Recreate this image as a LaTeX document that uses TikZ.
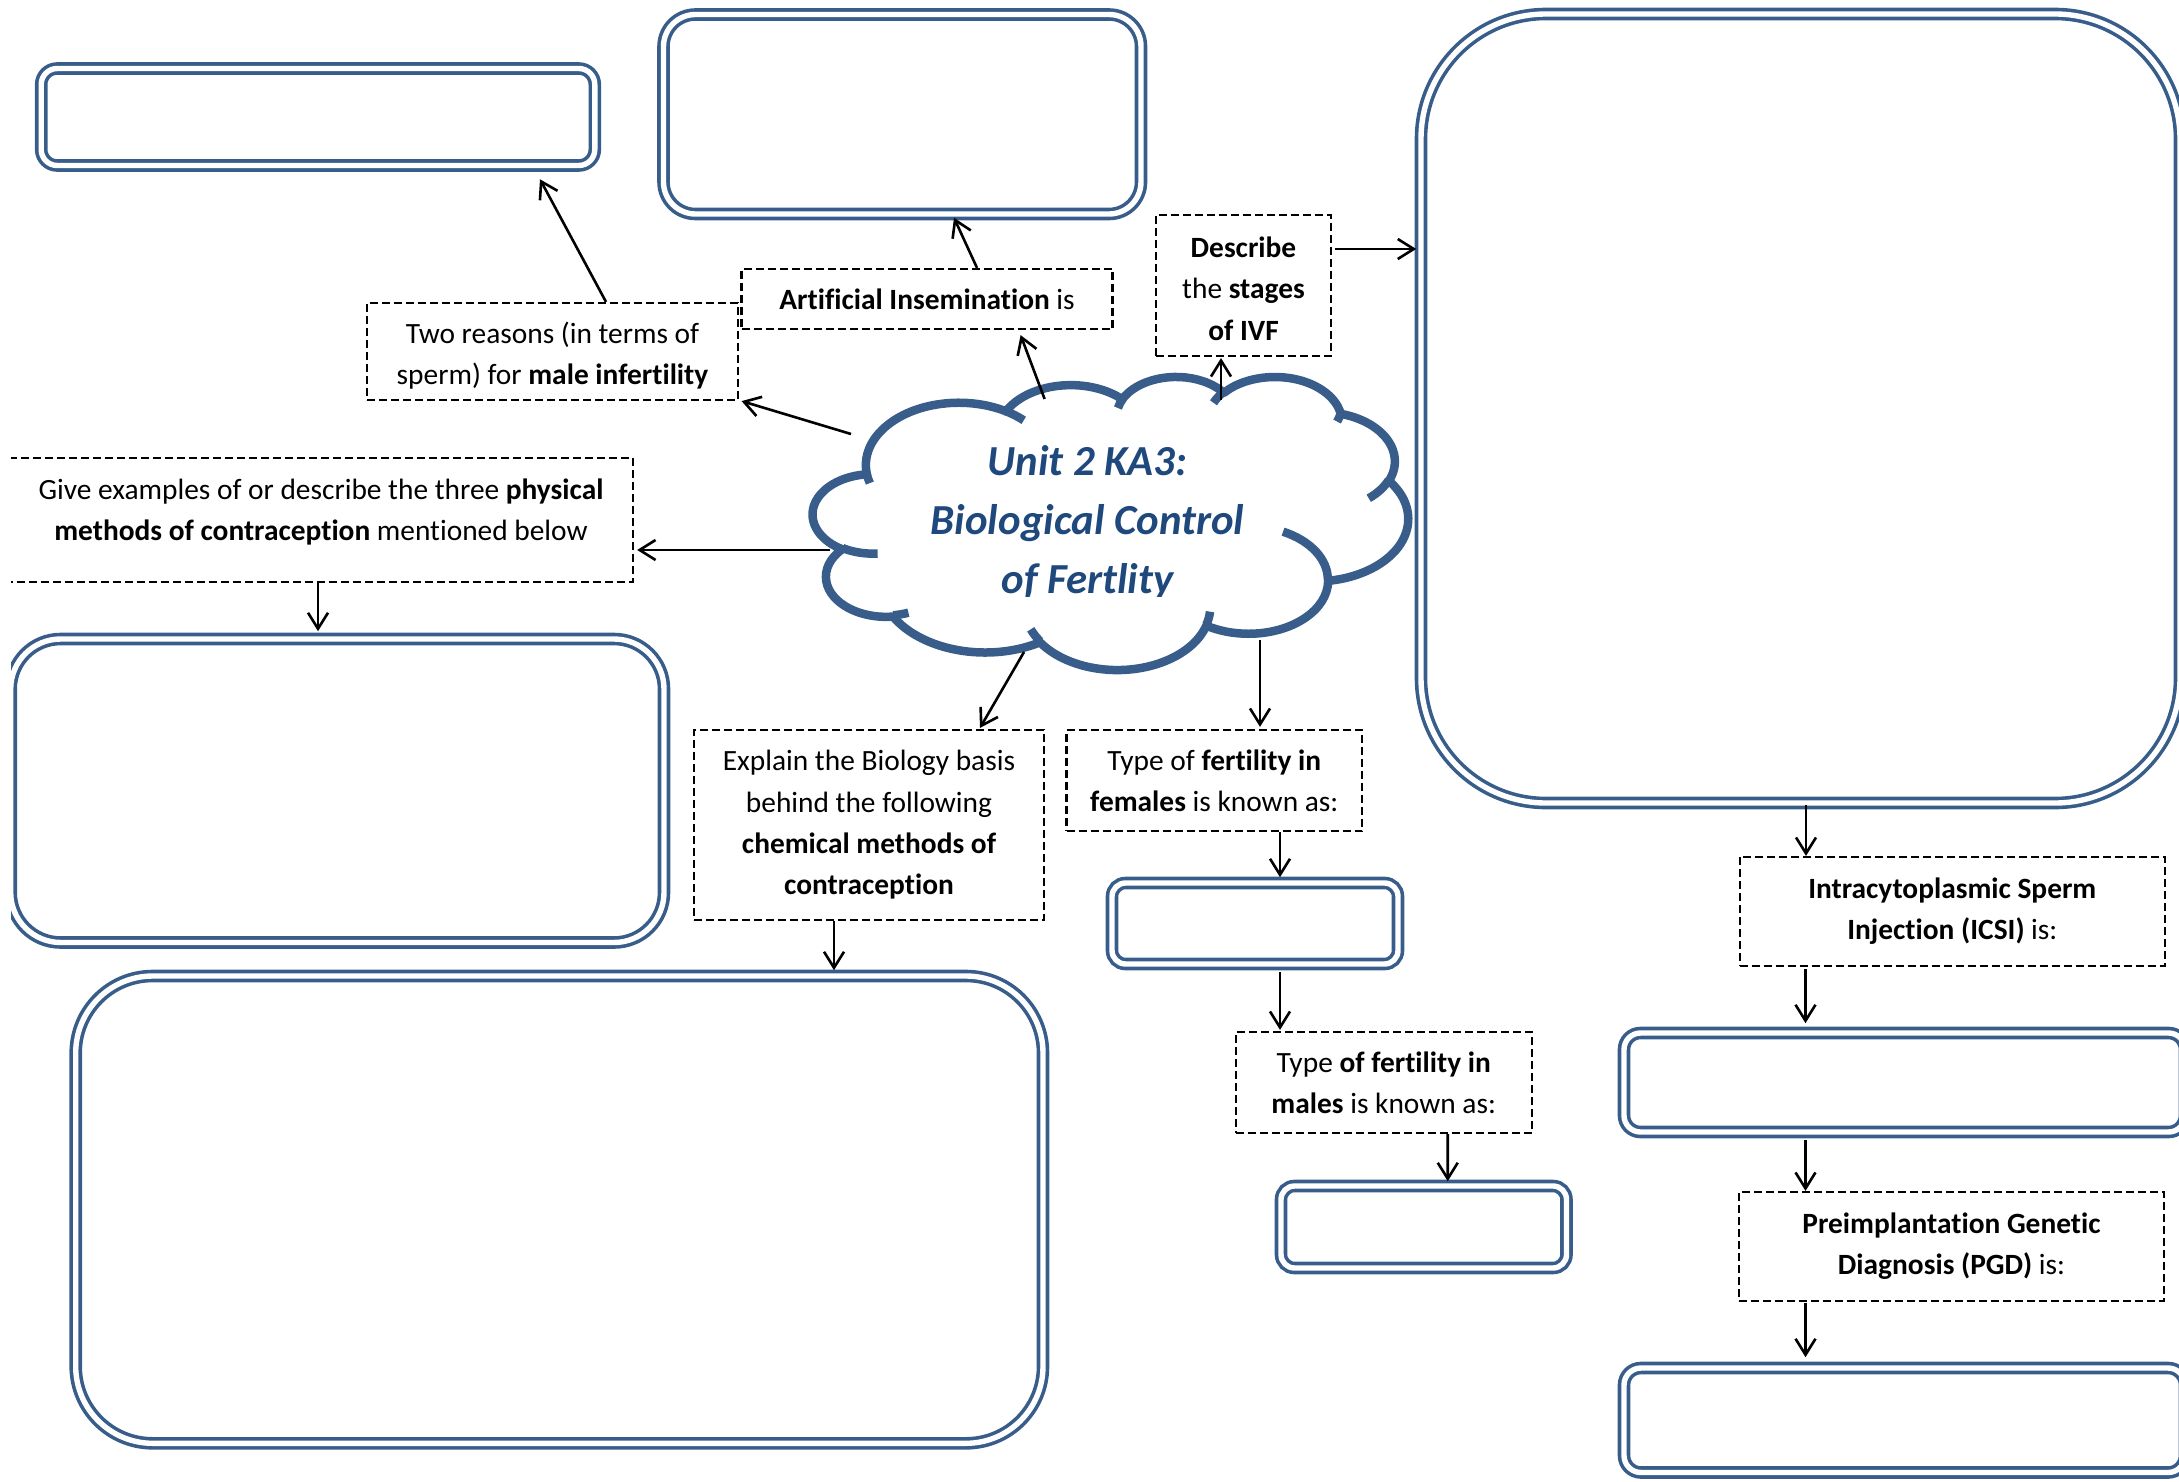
\documentclass[tikz,border=0pt]{standalone}
\usepackage{fontspec}
\setmainfont[Ligatures={NoCommon}]{Carlito}
\usetikzlibrary{arrows.meta,calc}
\definecolor{shapeblue}{RGB}{56,93,138}
\definecolor{titleblue}{RGB}{31,73,125}
% Word cloud arc: convert visual angles to parametric angles
\newcommand\mkarc[5]{%
 \pgfmathsetmacro\tmpS{atan2((#2)*sin(#4),(#3)*cos(#4))}%
 \pgfmathsetmacro\tmpE{atan2((#2)*sin((#4)+(#5)),(#3)*cos((#4)+(#5)))}%
 \pgfmathsetmacro\tmpE{(\tmpE)+360*round(((\tmpS)+(#5)-(\tmpE))/360)}%
 \expandafter\edef\csname aS#1\endcsname{\tmpS}%
 \expandafter\edef\csname aE#1\endcsname{\tmpE}}
\mkarc{A}{6.753}{9.190}{-190.4875}{123.7805}
\mkarc{B}{5.333}{7.267}{-144.1024}{89.9452}
\mkarc{C}{4.365}{5.945}{-145.8079}{99.7230}
\mkarc{D}{4.857}{6.595}{-130.9861}{117.2417}
\mkarc{E}{5.333}{7.273}{-78.7089}{109.0269}
\mkarc{F}{6.775}{9.220}{-46.2673}{130.2690}
\mkarc{G}{5.785}{7.867}{0.6250}{114.0333}
\mkarc{H}{6.752}{9.215}{22.4516}{115.1726}
\mkarc{I}{7.720}{10.543}{66.2426}{75.7110}
\mkarc{J}{4.360}{5.918}{-274.9421}{146.7356}
\mkarc{K}{4.345}{5.945}{-246.8285}{152.5189}
\mkarc{a}{4.345}{5.945}{86.7420}{26.4295}
\mkarc{b}{4.360}{5.918}{73.6105}{11.4475}
\mkarc{c}{6.752}{9.215}{137.6242}{14.0811}
\mkarc{d}{6.752}{9.215}{6.4533}{15.9984}
\mkarc{e}{5.785}{7.867}{-70.2924}{70.9174}
\mkarc{f}{5.333}{7.273}{30.3180}{27.7515}
\mkarc{g}{4.857}{6.595}{13.7443}{14.8589}
\mkarc{h}{4.857}{6.595}{-149.1815}{18.1954}
\mkarc{i}{4.365}{5.945}{-163.4943}{17.6864}
\mkarc{j}{6.753}{9.190}{-66.7070}{12.3194}
\mkarc{k}{6.753}{9.190}{157.6544}{11.8582}
\tikzset{
 dbox/.style={draw=black, line width=2.2pt, dash pattern=on 8pt off 4pt, rectangle, inner sep=0pt, align=center, font=\fontsize{29.4}{41.3}\selectfont},
 bbox/.style={draw=shapeblue, line width=3.6pt, double=white, double distance=5.4pt, rectangle, inner sep=0pt},
 conn/.style={line width=2.6pt, -{Straight Barb[length=16pt,width=20pt]}},
 cloudline/.style={draw=shapeblue, line width=8.5pt, line join=round},
 titletext/.style={text=titleblue, font=\fontsize{42.8}{60}\selectfont\bfseries\itshape, anchor=base, inner sep=0pt},
 qtext/.style={align=center, font=\fontsize{29.4}{41.3}\selectfont, inner sep=0pt}
}
\begin{document}
\begin{tikzpicture}[x=1pt,y=-1pt]
\useasboundingbox (0,0) rectangle (2179,1482);
\begin{scope}
\clip (11,0) rectangle (2179,1482);
% answer boxes (double blue outline)
\node[bbox, rounded corners=16pt, minimum width=553.6pt, minimum height=97pt] (b1) at (318,117) {};
\node[bbox, rounded corners=32pt, minimum width=477.5pt, minimum height=199.5pt] (b2) at (902.25,114.25) {};
\node[bbox, rounded corners=125pt, minimum width=759pt, minimum height=789pt] (b3) at (1800.5,408.5) {};
\node[bbox, rounded corners=50pt, minimum width=653.3pt, minimum height=303.5pt] (b4) at (337.35,790.75) {};
\node[bbox, rounded corners=77pt, minimum width=967.3pt, minimum height=467.3pt] (b5) at (559.35,1209.65) {};
\node[bbox, rounded corners=13.5pt, minimum width=286pt, minimum height=81pt] (b6) at (1255,923.5) {};
\node[bbox, rounded corners=13.5pt, minimum width=285.5pt, minimum height=82pt] (b7) at (1423.75,1227) {};
\node[bbox, rounded corners=16.5pt, minimum width=561pt, minimum height=99pt] (b8) at (1904.5,1082.5) {};
\node[bbox, rounded corners=17pt, minimum width=561pt, minimum height=104.5pt] (b9) at (1904.5,1420.25) {};
% question boxes (dashed)
\node[dbox, minimum width=371pt, minimum height=97pt] (d1) at (552.5,351.5) {};
\node[qtext] (d1t) at (552.5,355.5) {Two reasons (in terms of\\ sperm) for \textbf{male infertility}};
\node[dbox, minimum width=371pt, minimum height=60pt] (d2) at (927,299) {\textbf{Artificial Insemination} is};
\node[dbox, minimum width=175pt, minimum height=141pt] (d3) at (1243.5,285.5) {};
\node[qtext] (d3t) at (1243.5,288.5) {\textbf{Describe}\\ the \textbf{stages}\\ \textbf{of IVF}};
\node[dbox, minimum width=628pt, minimum height=124pt] (d4) at (319,520) {};
\node[qtext] (d4t) at (321,512) {Give examples of or describe the three \textbf{physical}\\ \textbf{methods of contraception} mentioned below};
\node[dbox, minimum width=350pt, minimum height=190pt] (d5) at (869,825) {Explain the Biology basis\\ behind the following\\ \textbf{chemical methods of}\\ \textbf{contraception}};
\node[dbox, minimum width=295.5pt, minimum height=101pt] (d6) at (1214.25,780.5) {Type of \textbf{fertility in}\\ \textbf{females} is known as:};
\node[dbox, minimum width=296pt, minimum height=101pt] (d7) at (1383.7,1082.5) {Type \textbf{of fertility in}\\ \textbf{males} is known as:};
\node[dbox, minimum width=425.4pt, minimum height=109pt] (d8) at (1952.3,911.5) {\textbf{Intracytoplasmic Sperm}\\ \textbf{Injection (ICSI)} is:};
\node[dbox, minimum width=425pt, minimum height=109pt] (d9) at (1951.5,1246.5) {\textbf{Preimplantation Genetic}\\ \textbf{Diagnosis (PGD)} is:};
% central cloud
\begin{scope}[shift={(813,376)}, x=13.773pt, y=-6.782pt]
\draw[cloudline, fill=white] (3.9,14.37)
 arc[start angle=\aSA, end angle=\aEA, x radius=6.753, y radius=9.19]
 arc[start angle=\aSB, end angle=\aEB, x radius=5.333, y radius=7.267]
 arc[start angle=\aSC, end angle=\aEC, x radius=4.365, y radius=5.945]
 arc[start angle=\aSD, end angle=\aED, x radius=4.857, y radius=6.595]
 arc[start angle=\aSE, end angle=\aEE, x radius=5.333, y radius=7.273]
 arc[start angle=\aSF, end angle=\aEF, x radius=6.775, y radius=9.22]
 arc[start angle=\aSG, end angle=\aEG, x radius=5.785, y radius=7.867]
 arc[start angle=\aSH, end angle=\aEH, x radius=6.752, y radius=9.215]
 arc[start angle=\aSI, end angle=\aEI, x radius=7.72, y radius=10.543]
 arc[start angle=\aSJ, end angle=\aEJ, x radius=4.36, y radius=5.918]
 arc[start angle=\aSK, end angle=\aEK, x radius=4.345, y radius=5.945]
 -- cycle;
\draw[cloudline]
 (4.693,26.177) arc[start angle=\aSa, end angle=\aEa, x radius=4.345, y radius=5.945]
 (6.928,34.899) arc[start angle=\aSb, end angle=\aEb, x radius=4.36, y radius=5.918]
 (16.478,39.09) arc[start angle=\aSc, end angle=\aEc, x radius=6.752, y radius=9.215]
 (28.827,34.751) arc[start angle=\aSd, end angle=\aEd, x radius=6.752, y radius=9.215]
 (34.129,22.954) arc[start angle=\aSe, end angle=\aEe, x radius=5.785, y radius=7.867]
 (41.798,15.354) arc[start angle=\aSf, end angle=\aEf, x radius=5.333, y radius=7.273]
 (38.324,5.426) arc[start angle=\aSg, end angle=\aEg, x radius=4.857, y radius=6.595]
 (29.078,3.952) arc[start angle=\aSh, end angle=\aEh, x radius=4.857, y radius=6.595]
 (22.141,4.72) arc[start angle=\aSi, end angle=\aEi, x radius=4.365, y radius=5.945]
 (14.0,5.192) arc[start angle=\aSj, end angle=\aEj, x radius=6.753, y radius=9.19]
 (4.127,15.789) arc[start angle=\aSk, end angle=\aEk, x radius=6.753, y radius=9.19];
\end{scope}
\begin{scope}
\clip (850,410) rectangle (1330,596);
\node[titletext] (t1) at (1087.5,475) {Unit 2 KA3:};
\node[titletext] (t2) at (1087.5,534) {Biological Control};
\node[titletext] (t3) at (1087.5,593) {of Fertlity};
\end{scope}
% attachment points on the cloud
\coordinate (cA3) at (851,434);
\coordinate (cA4) at (1044.6,399);
\coordinate (cA5) at (1221,400);
\coordinate (cA7) at (830,550);
\coordinate (cA9) at (1024,652);
\coordinate (cA10) at (1260,640);
% connectors
\draw[conn] ($(d1.north)+(53.5,0)$) -- ($(b1.south)+(222,12)$);
\draw[conn] ($(d2.north)+(50,0)$) -- ($(b2.south)+(51.75,2)$);
\draw[conn] (cA3) -- ($(d1.south east)+(2.5,0)$);
\draw[conn] (cA4) -- ($(d2.south)+(93.6,5)$);
\draw[conn] (cA5) -- ($(d3.south)+(-22.5,1)$);
\draw[conn] ($(d3.east)+(3,-36.5)$) -- ($(b3.west)+(-3,-159.5)$);
\draw[conn] (cA7) -- ($(d4.east)+(3,30)$);
\draw[conn] ($(d4.south)+(-1,0)$) -- ($(b4.north)+(-19.35,-6)$);
\draw[conn] (cA9) -- ($(d5.north)+(111,-1)$);
\draw[conn] (cA10) -- ($(d6.north)+(45.75,-2)$);
\draw[conn] ($(d5.south)+(-35,0)$) -- ($(b5.north)+(274.65,-4)$);
\draw[conn] ($(d6.south)+(65.75,0)$) -- ($(b6.north)+(25,-4)$);
\draw[conn] ($(b6.south)+(25,6)$) -- ($(d7.north)+(-103.7,-1)$);
\draw[conn] ($(d7.south)+(64,0)$) -- ($(b7.north)+(24,-3)$);
\draw[conn] ($(b3.south)+(5.5,0)$) -- ($(d8.north)+(-146.3,0)$);
\draw[conn] ($(d8.south)+(-146.8,2)$) -- ($(b8.north)+(-99,-8)$);
\draw[conn] ($(b8.south)+(-99,6)$) -- ($(d9.north)+(-146,0)$);
\draw[conn] ($(d9.south)+(-146,1)$) -- ($(b9.north)+(-99,-9)$);
\end{scope}
\end{tikzpicture}
\end{document}
